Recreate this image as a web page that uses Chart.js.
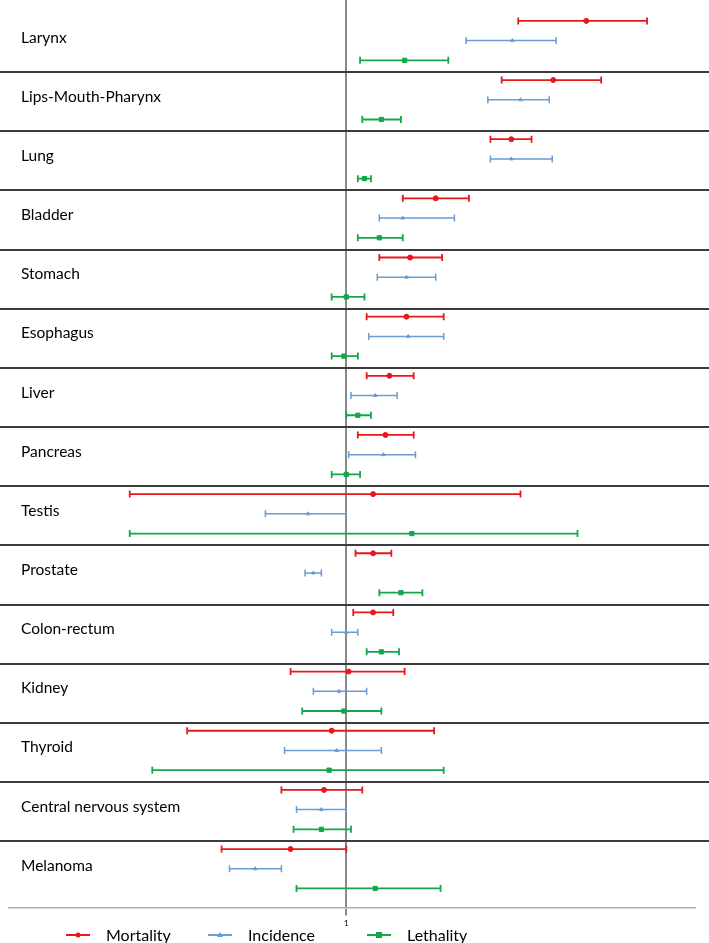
<!DOCTYPE html>
<html>
<head>
<meta charset="utf-8">
<script src="https://cdn.jsdelivr.net/npm/chart.js@4.4.1/dist/chart.umd.min.js"></script>
<style>
  body { margin: 0; background: #fff; }
  #wrap { width: 709px; height: 943px; position: relative; }
</style>
</head>
<body>
<div id="wrap"><canvas id="forestChart"></canvas></div>
<script>
const categories = ['Larynx', 'Lips-Mouth-Pharynx', 'Lung', 'Bladder', 'Stomach', 'Esophagus', 'Liver', 'Pancreas',
  'Testis', 'Prostate', 'Colon-rectum', 'Kidney', 'Thyroid', 'Central nervous system', 'Melanoma'];

const mortality     = [2.76, 2.40, 2.01, 1.46, 1.31, 1.29, 1.20, 1.18, 1.12, 1.12, 1.12, 1.01, 0.94, 0.91, 0.79];
const mortalityLow  = [2.07, 1.93, 1.84, 1.27, 1.15, 1.09, 1.09, 1.05, 0.40, 1.04, 1.03, 0.79, 0.51, 0.76, 0.59];
const mortalityHigh = [3.57, 2.94, 2.19, 1.68, 1.50, 1.51, 1.33, 1.33, 2.09, 1.21, 1.22, 1.28, 1.45, 1.07, 1.00];

const incidence     = [2.02, 2.09, 2.01, 1.27, 1.29, 1.30, 1.13, 1.17, 0.85, 0.87, 1.00, 0.97, 0.96, 0.90, 0.68];
const incidenceLow  = [1.66, 1.82, 1.84, 1.15, 1.14, 1.10, 1.02, 1.01, 0.71, 0.84, 0.94, 0.87, 0.77, 0.81, 0.61];
const incidenceHigh = [2.43, 2.36, 2.39, 1.58, 1.46, 1.51, 1.24, 1.34, 1.00, 0.90, 1.05, 1.09, 1.16, 1.00, 0.76];

const lethality     = [1.28, 1.16, 1.08, 1.15, 1.00, 0.99, 1.05, 1.00, 1.32, 1.26, 1.16, 0.99, 0.93, 0.90, 1.13];
const lethalityLow  = [1.06, 1.07, 1.05, 1.05, 0.94, 0.94, 1.00, 0.94, 0.40, 1.15, 1.09, 0.83, 0.44, 0.80, 0.81];
const lethalityHigh = [1.54, 1.26, 1.11, 1.27, 1.08, 1.05, 1.11, 1.06, 2.66, 1.38, 1.25, 1.16, 1.51, 1.02, 1.49];

const xTicks = [1];

// each category gets three rows: mortality, incidence, lethality
function rows(values, offset) {
  return values.map((v, i) => ({ x: v, y: i * 3 + offset }));
}

const series = [
  { label: 'Mortality', pts: mortality, low: mortalityLow, high: mortalityHigh, color: '#e8171d', width: 1.8, style: 'circle', radius: 2.5 },
  { label: 'Incidence', pts: incidence, low: incidenceLow, high: incidenceHigh, color: '#6a9bd3', width: 1.5, style: 'triangle', radius: 2 },
  { label: 'Lethality', pts: lethality, low: lethalityLow, high: lethalityHigh, color: '#14a64a', width: 1.8, style: 'rect', radius: 3 }
];

// Plugin: separators, category names and confidence intervals
const forestPlugin = {
  id: 'forest',
  beforeDatasetsDraw(chart) {
    const { ctx, scales: { x, y } } = chart;
    ctx.save();
    // horizontal separators between categories
    ctx.strokeStyle = '#3c3c3c';
    ctx.lineWidth = 2;
    for (let k = 0; k < categories.length - 1; k++) {
      const py = Math.round(y.getPixelForValue(k * 3 + 2.6));
      ctx.beginPath();
      ctx.moveTo(0, py);
      ctx.lineTo(chart.width, py);
      ctx.stroke();
    }
    // category names
    ctx.fillStyle = '#000';
    ctx.font = '15.5px Lato';
    ctx.textBaseline = 'middle';
    categories.forEach((c, k) => {
      ctx.fillText(c, 21, y.getPixelForValue(k * 3 + 0.85));
    });
    // error bars
    series.forEach((s, si) => {
      ctx.strokeStyle = s.color;
      ctx.lineWidth = s.width;
      s.pts.forEach((_, i) => {
        const py = y.getPixelForValue(i * 3 + si);
        const x1 = x.getPixelForValue(s.low[i]);
        const x2 = x.getPixelForValue(s.high[i]);
        ctx.beginPath();
        ctx.moveTo(x1, py);
        ctx.lineTo(x2, py);
        ctx.moveTo(x1, py - 3.5);
        ctx.lineTo(x1, py + 3.5);
        ctx.moveTo(x2, py - 3.5);
        ctx.lineTo(x2, py + 3.5);
        ctx.stroke();
      });
    });
    ctx.restore();
  },
  afterDraw(chart) {
    const { ctx } = chart;
    const spots = [66, 208, 367];
    ctx.save();
    ctx.font = '16px Lato';
    ctx.textBaseline = 'middle';
    const ly = 935;
    chart.data.datasets.forEach((ds, i) => {
      const s = series[i];
      const x0 = spots[i];
      ctx.strokeStyle = s.color;
      ctx.lineWidth = 2;
      ctx.beginPath();
      ctx.moveTo(x0, ly);
      ctx.lineTo(x0 + 24, ly);
      ctx.stroke();
      ctx.fillStyle = s.color;
      const cx = x0 + 12;
      if (s.style === 'circle') {
        ctx.beginPath();
        ctx.arc(cx, ly, 2.5, 0, Math.PI * 2);
        ctx.fill();
      } else if (s.style === 'triangle') {
        ctx.beginPath();
        ctx.moveTo(cx, ly - 3);
        ctx.lineTo(cx + 3, ly + 2);
        ctx.lineTo(cx - 3, ly + 2);
        ctx.closePath();
        ctx.fill();
      } else {
        ctx.fillRect(cx - 3, ly - 3, 6, 6);
      }
      ctx.fillStyle = '#000';
      ctx.fillText(ds.label, x0 + 40, ly + 1);
    });
    ctx.restore();
  }
};

const ctx = document.getElementById('forestChart').getContext('2d');
new Chart(ctx, {
  type: 'scatter',
  data: {
    datasets: series.map((s, si) => ({
      label: s.label,
      data: rows(s.pts, si),
      backgroundColor: s.color,
      borderColor: s.color,
      pointStyle: s.style,
      pointRadius: s.radius,
      pointHoverRadius: s.radius
    }))
  },
  options: {
    responsive: true,
    maintainAspectRatio: false,
    animation: false,
    layout: { autoPadding: false, padding: { left: 9, right: 14, top: 0, bottom: 12 } },
    plugins: {
      legend: { display: false },
      tooltip: { enabled: false }
    },
    scales: {
      x: {
        type: 'logarithmic',
        min: 0.24,
        max: 4.373,
        afterBuildTicks: scale => { scale.ticks = xTicks.map(v => ({ value: v })); },
        ticks: {
          callback: v => String(v),
          color: '#000',
          font: { size: 8, family: 'Lato' },
          padding: 3,
          maxRotation: 0,
          autoSkip: false
        },
        grid: { color: '#8a8a8a', lineWidth: 2, tickLength: 8, drawTicks: true },
        border: { display: true, color: '#b0b0b0', width: 1.5 }
      },
      y: {
        type: 'linear',
        display: false,
        reverse: true,
        min: -1.06,
        max: 44.96
      }
    }
  },
  plugins: [forestPlugin]
});
</script>
</body>
</html>
